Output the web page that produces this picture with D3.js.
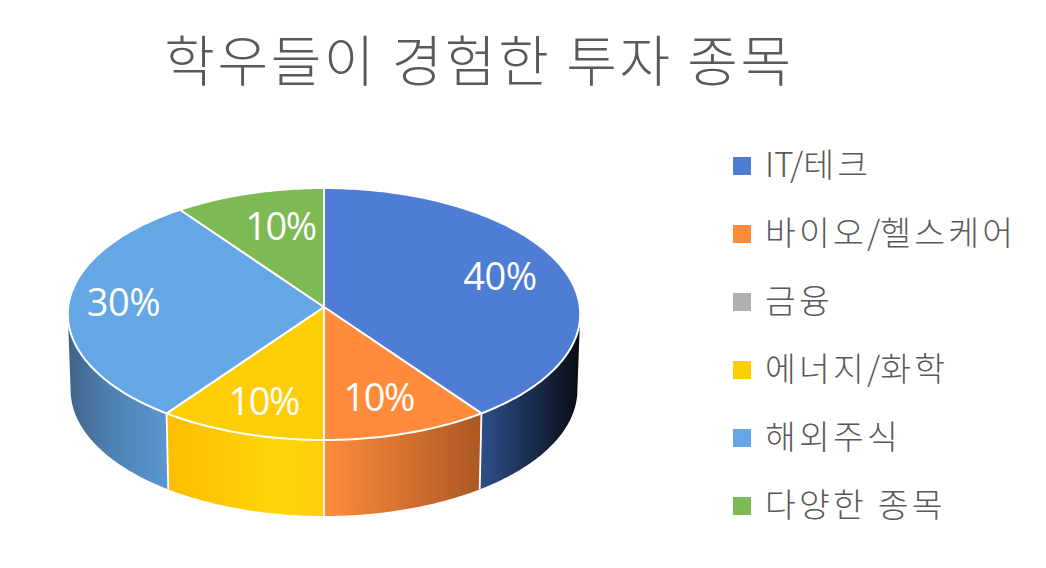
<!DOCTYPE html>
<html><head><meta charset="utf-8">
<script src="https://cdn.jsdelivr.net/npm/d3@7"></script>
<style>html,body{margin:0;padding:0;background:#fff}svg{display:block}</style>
</head><body><div id="c"></div>
<script>
const chartTitle = "학우들이 경험한 투자 종목";
const categories = ["IT/테크","바이오/헬스케어","금융","에너지/화학","해외주식","다양한 종목"];
const values = [40,10,0,10,30,10];
const colors = ["#4E7DD3","#FF8B3B","#B0B0B0","#FFCD05","#65A6E5","#7EBA54"];
const sideStops = [
 [[0,"#2F4F8C"],[1,"#080C14"]],
 [[0,"#FF8C3C"],[1,"#AB5823"]],
 [[0,"#888"],[1,"#555"]],
 [[0,"#FDBC00"],[0.72,"#FFD60A"],[1,"#FFCE08"]],
 [[0,"#3F6487"],[0.4,"#4E7FAF"],[1,"#5A98D2"]],
 [[0,"#5A8A3A"],[1,"#4A7530"]]
];
const W=1046,H=568;
const svg=d3.select("#c").append("svg").attr("width",W).attr("height",H);
const font="'Noto Sans CJK KR','Noto Sans',sans-serif";
const cx=324,cy=307,depth=76,A=255.8,B=125.6,k=0.0556,Ab=253;
const proj=(a,Ax,dy)=>{const u=Math.sin(a),v=-Math.cos(a),w=1-k*v;return [cx+Ax*u/w,cy+dy+B*v/w];};
const pie=d3.pie().sort(null).value(d=>d)(values);
const line=d3.line();
const step=Math.PI/180;
const arcAngles=(a0,a1)=>{const n=Math.max(1,Math.ceil((a1-a0)/step));return d3.range(n+1).map(i=>a0+(a1-a0)*i/n);};
const defs=svg.append("defs");
const frontA=Math.PI/2+0.056,frontB=Math.PI*1.5-0.056;
const sides=svg.append("g");
pie.forEach((d,i)=>{
  const a0=Math.max(d.startAngle,frontA),a1=Math.min(d.endAngle,frontB);
  if(a1<=a0)return;
  const as=arcAngles(a0,a1);
  const top=as.map(a=>proj(a,A,0)),bot=as.map(a=>proj(a,Ab,depth)).reverse();
  const xs=top.concat(bot).map(p=>p[0]);
  const g=defs.append("linearGradient").attr("id","s"+i).attr("gradientUnits","userSpaceOnUse")
    .attr("x1",d3.min(xs)).attr("x2",d3.max(xs)).attr("y1",0).attr("y2",0);
  sideStops[i].forEach(s=>g.append("stop").attr("offset",s[0]).attr("stop-color",s[1]));
  sides.append("path").attr("d",line(top.concat(bot))+"Z").attr("fill",`url(#s${i})`);
});
pie.forEach(d=>{
  if(d.value===0||d.endAngle<=frontA||d.endAngle>=frontB)return;
  const p=proj(d.endAngle,A,0),q=proj(d.endAngle,Ab,depth);
  sides.append("line").attr("x1",p[0]).attr("y1",p[1]).attr("x2",q[0]).attr("y2",q[1])
    .attr("stroke","#fff").attr("stroke-width",1.8);
});
const tops=svg.append("g");
pie.forEach((d,i)=>{
  if(d.value===0)return;
  const pts=[[cx,cy]].concat(arcAngles(d.startAngle,d.endAngle).map(a=>proj(a,A,0)));
  tops.append("path").attr("d",line(pts)+"Z").attr("fill",colors[i])
    .attr("stroke","#fff").attr("stroke-width",2).attr("stroke-linejoin","round");
});
const labelFrac=[0.74,0.68,0,0.74,0.78,0.62];
const labelNudge=[[-1,-2],[-2,5],[0,2],[1.5,2],[-1,-4],[3,-10]];
const total=d3.sum(values);
const labels=svg.append("g");
pie.forEach((d,i)=>{
  if(d.value===0)return;
  const a=(d.startAngle+d.endAngle)/2,p=proj(a,A,0),f=labelFrac[i];
  labels.append("text").attr("x",cx+(p[0]-cx)*f+labelNudge[i][0]).attr("y",cy+(p[1]-cy)*f+13+labelNudge[i][1])
   .attr("text-anchor","middle").attr("fill","#fff").attr("font-size",38)
   .attr("font-family","'Open Sans',sans-serif").attr("letter-spacing",d.value<20?-1.5:-0.4)
   .text(d3.format(".0%")(d.value/total));
});
svg.append("text").attr("x",479).attr("y",81).attr("text-anchor","middle")
 .attr("font-family",font).attr("font-size",55).attr("font-weight",300).attr("fill","#595959")
 .attr("letter-spacing",2.6).text(chartTitle);
const ly=d3.scalePoint().domain(categories).range([166,506]);
const lg=svg.append("g").selectAll("g").data(categories).join("g").attr("transform",c=>`translate(733,${ly(c)})`);
lg.append("rect").attr("x",0).attr("y",-9).attr("width",18).attr("height",18).attr("fill",(c,i)=>colors[i]);
lg.append("text").attr("x",32).attr("y",10.5).attr("font-family",font).attr("font-size",33.5).attr("font-weight",300)
 .attr("fill","#595959").each(function(c){
   const t=d3.select(this);
   c.split(/([A-Za-z\/]+)/).filter(s=>s).forEach(s=>{
     t.append("tspan").attr("letter-spacing",/[A-Za-z\/]/.test(s)?0:3.2).text(s);
   });
 });
</script></body></html>
